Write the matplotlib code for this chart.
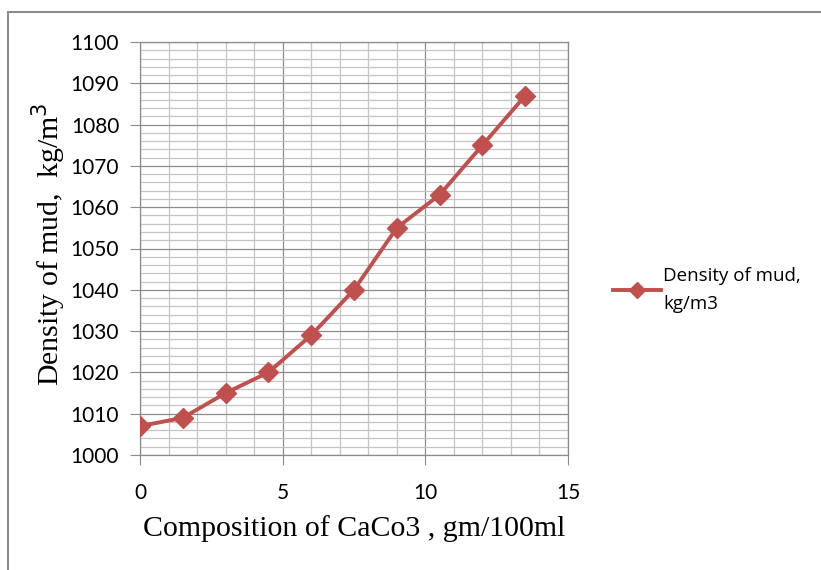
import matplotlib.pyplot as plt
from matplotlib.ticker import MultipleLocator
from matplotlib.patches import Rectangle

# Data
caco3 = [0, 1.5, 3, 4.5, 6, 7.5, 9, 10.5, 12, 13.5]
density = [1007, 1009, 1015, 1020, 1029, 1040, 1055, 1063, 1075, 1087]
series_name = "Density of mud,\nkg/m3"

red = '#C0504D'

fig = plt.figure(figsize=(8.21, 5.70), dpi=100)
ax = fig.add_axes([140 / 821, 1 - 455 / 570, 428 / 821, 413 / 570])

ax.plot(caco3, density, color=red, linewidth=2.8, marker='D', markersize=10,
        label=series_name, zorder=3)

ax.set_xlim(0, 15)
ax.set_ylim(1000, 1100)
ax.xaxis.set_major_locator(MultipleLocator(5))
ax.xaxis.set_minor_locator(MultipleLocator(1))
ax.yaxis.set_major_locator(MultipleLocator(10))
ax.yaxis.set_minor_locator(MultipleLocator(2))

ax.grid(which='major', color='#8c8c8c', linewidth=0.9)
ax.grid(which='minor', color='#c4c4c4', linewidth=0.9)
ax.set_axisbelow(True)

for s in ax.spines.values():
    s.set_color('#8c8c8c')
    s.set_linewidth(0.9)

ax.tick_params(which='major', length=7, color='#8c8c8c', labelsize=15,
               direction='out')
ax.tick_params(axis='y', pad=8)
ax.tick_params(axis='x', pad=13)
ax.tick_params(which='minor', length=0)
for lab in ax.get_xticklabels() + ax.get_yticklabels():
    lab.set_family('Lato')

ax.set_xlabel("Composition of CaCo3 , gm/100ml", family='Liberation Serif',
              fontsize=21.5, labelpad=9)
ax.set_ylabel("Density of mud,  kg/m$^3$", family='Liberation Serif',
              fontsize=21.5)
ax.yaxis.set_label_coords(-0.168, 0.51)

leg = ax.legend(loc='center left', bbox_to_anchor=(1.065, 0.4), frameon=False,
                prop={'family': 'Open Sans', 'size': 13.5}, handlelength=2.6,
                handletextpad=0.1, markerscale=0.8)
leg.get_texts()[0].set_linespacing(1.7)

# outer chart border
fig.patches.append(Rectangle((8 / 821, -0.1), 1.1, 1 - 12 / 570 + 0.1,
                             transform=fig.transFigure, fill=False,
                             edgecolor='#8c8c8c', linewidth=1.5))

fig.savefig('out.png', dpi=100)
